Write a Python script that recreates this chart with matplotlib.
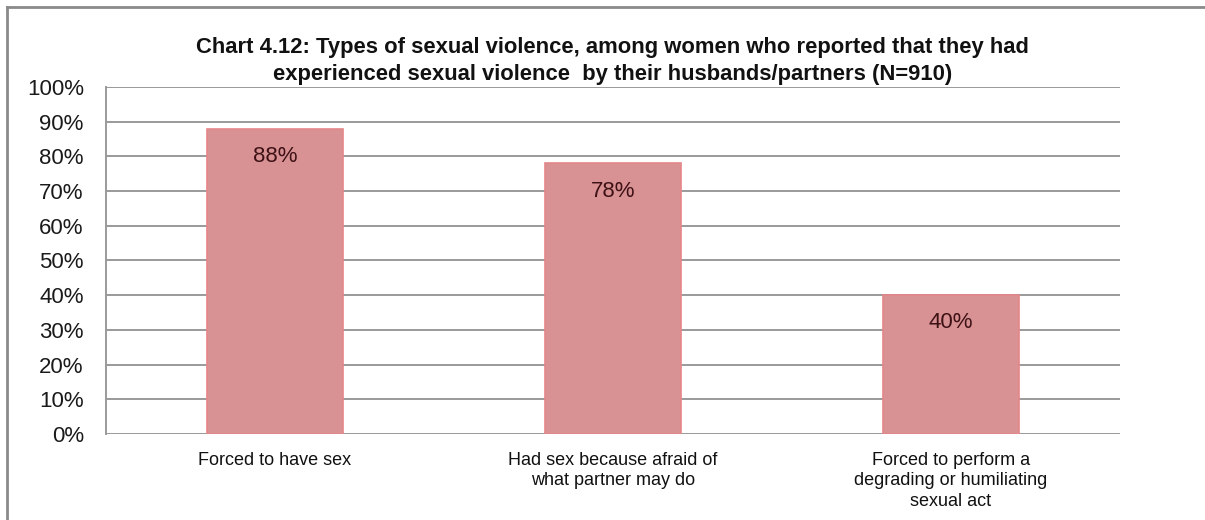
import matplotlib
matplotlib.use("Agg")
import matplotlib.pyplot as plt
from matplotlib.lines import Line2D
from matplotlib.ticker import MultipleLocator, PercentFormatter

categories = [
    "Forced to have sex",
    "Had sex because afraid of\nwhat partner may do",
    "Forced to perform a\ndegrading or humiliating\nsexual act",
]
values = [88, 78, 40]
value_labels = ["88%", "78%", "40%"]

title = ("Chart 4.12: Types of sexual violence, among women who reported that they had\n"
         "experienced sexual violence  by their husbands/partners (N=910)")

font = ["Liberation Sans", "DejaVu Sans"]
plt.rcParams["font.family"] = font

fig = plt.figure(figsize=(12.05, 5.2), dpi=100)
ax = fig.add_axes([0.088, 0.1654, 0.8415, 0.6673])

x = range(len(categories))
bars = ax.bar(x, values, width=0.4, color="#d99294", edgecolor="#e5868a",
              linewidth=1.2, zorder=3)

# value labels sit inside the bars, a little below the top
for rect, lab in zip(bars, value_labels):
    ax.annotate(lab, (rect.get_x() + rect.get_width() / 2, rect.get_height()),
                xytext=(0, -20), textcoords="offset points",
                ha="center", va="center", fontsize=16, color="#3e1215",
                zorder=4)

ax.set_xlim(-0.5, len(categories) - 0.5)
ax.set_ylim(0, 100)
ax.yaxis.set_major_locator(MultipleLocator(10))
ax.yaxis.set_major_formatter(PercentFormatter(decimals=0))
ax.grid(axis="y", color="#9a9a9a", linewidth=1.4, zorder=0)
ax.set_axisbelow(True)

for s in ("top", "right", "bottom"):
    ax.spines[s].set_visible(False)
ax.spines["left"].set_color("#9a9a9a")
ax.spines["left"].set_linewidth(1.4)

ax.set_xticks(list(x))
ax.set_xticklabels(categories, fontsize=13, color="#111111", linespacing=1.25)
ax.tick_params(axis="x", length=0, pad=13)
ax.tick_params(axis="y", length=0, pad=16, labelsize=16, labelcolor="#1a1a1a")

fig.text(0.508, 1 - 61 / 520, title, ha="center", va="center",
         fontsize=15.8, fontweight="bold", color="#111111", linespacing=1.4)

# outer chart frame
fig.add_artist(Line2D([7 / 1205, 1], [1 - 7 / 520, 1 - 7 / 520],
                      transform=fig.transFigure, color="#8a8a8a", linewidth=2))
fig.add_artist(Line2D([7 / 1205, 7 / 1205], [0, 1 - 7 / 520],
                      transform=fig.transFigure, color="#8a8a8a", linewidth=2))

fig.savefig("out.png", dpi=100)
